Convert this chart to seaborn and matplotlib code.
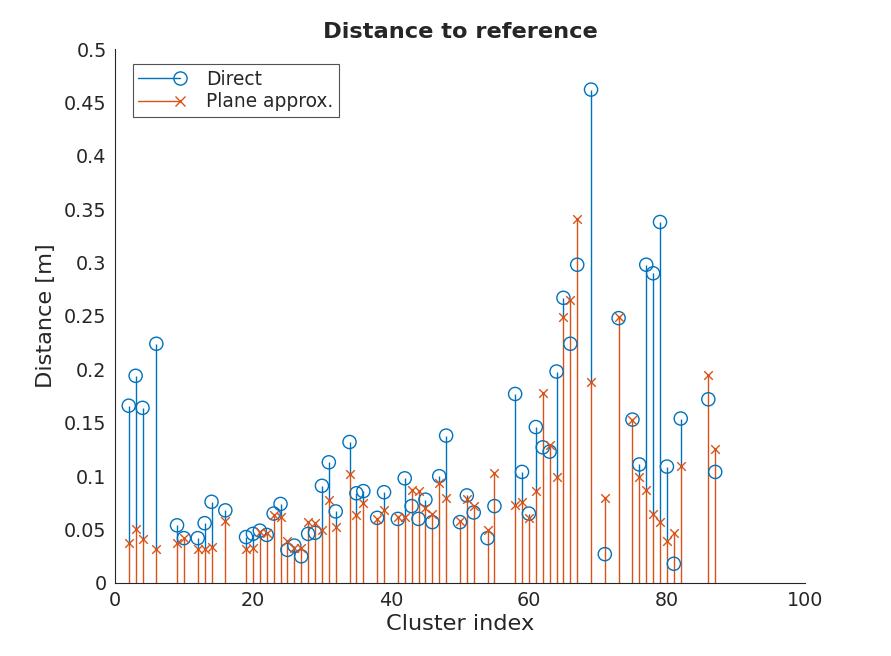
import numpy as np
import pandas as pd
import matplotlib
matplotlib.use("Agg")
import matplotlib.pyplot as plt
from matplotlib.lines import Line2D
from matplotlib.legend_handler import HandlerBase
import seaborn as sns

# Cluster indices and the two distance series
cluster_idx = [2, 3, 4, 6, 9, 10, 12, 13, 14, 16, 19, 20, 21, 22, 23, 24, 25, 26, 27, 28,
               29, 30, 31, 32, 34, 35, 36, 38, 39, 41, 42, 43, 44, 45, 46, 47, 48, 50, 51, 52,
               54, 55, 58, 59, 60, 61, 62, 63, 64, 65, 66, 67, 69, 71, 73, 75, 76, 77, 78, 79,
               80, 81, 82, 86, 87]
direct = [0.166, 0.194, 0.164, 0.224, 0.054, 0.042, 0.042, 0.056, 0.076, 0.068,
          0.043, 0.046, 0.049, 0.045, 0.065, 0.074, 0.031, 0.035, 0.025, 0.046,
          0.047, 0.091, 0.113, 0.067, 0.132, 0.084, 0.086, 0.061, 0.085, 0.060,
          0.098, 0.072, 0.060, 0.078, 0.057, 0.100, 0.138, 0.057, 0.082, 0.066,
          0.042, 0.072, 0.177, 0.104, 0.065, 0.146, 0.127, 0.123, 0.198, 0.267,
          0.224, 0.298, 0.462, 0.027, 0.248, 0.153, 0.111, 0.298, 0.290, 0.338,
          0.109, 0.018, 0.154, 0.172, 0.104]
plane = [0.037, 0.051, 0.041, 0.032, 0.037, 0.042, 0.032, 0.032, 0.034, 0.058,
         0.032, 0.033, 0.048, 0.047, 0.064, 0.062, 0.039, 0.033, 0.033, 0.057,
         0.056, 0.050, 0.078, 0.052, 0.102, 0.064, 0.075, 0.060, 0.068, 0.062,
         0.062, 0.087, 0.086, 0.070, 0.065, 0.094, 0.080, 0.058, 0.079, 0.072,
         0.050, 0.103, 0.073, 0.076, 0.061, 0.086, 0.178, 0.129, 0.099, 0.249,
         0.265, 0.341, 0.188, 0.080, 0.249, 0.153, 0.099, 0.087, 0.065, 0.057,
         0.039, 0.047, 0.110, 0.195, 0.125]

df = pd.DataFrame({"idx": cluster_idx, "Direct": direct, "Plane approx.": plane})

blue = "#0072BD"
orange = "#D95319"
dark = "#262626"


class EndMarkerHandler(HandlerBase):
    # legend entry like MATLAB's stem: a line with the marker at its right end
    def create_artists(self, legend, orig_handle, xdescent, ydescent, width,
                       height, fontsize, trans):
        y = (height - ydescent) / 2
        x0, x1 = -xdescent, -xdescent + width
        line = Line2D([x0, x1], [y, y], color=orig_handle.get_color(),
                      linewidth=orig_handle.get_linewidth())
        mark = Line2D([x1], [y], linestyle="none",
                      marker=orig_handle.get_marker(),
                      markersize=orig_handle.get_markersize(),
                      markerfacecolor=orig_handle.get_markerfacecolor(),
                      markeredgecolor=orig_handle.get_markeredgecolor(),
                      markeredgewidth=orig_handle.get_markeredgewidth())
        line.set_transform(trans)
        mark.set_transform(trans)
        return [line, mark]


sns.set_style("white")
plt.rcParams["font.family"] = ["DejaVu Sans"]
plt.rcParams["axes.edgecolor"] = dark
plt.rcParams["text.color"] = dark
plt.rcParams["axes.labelcolor"] = dark
plt.rcParams["xtick.color"] = dark
plt.rcParams["ytick.color"] = dark

fig = plt.figure(figsize=(8.91, 6.56), dpi=100)
ax = fig.add_axes([0.129, 0.1113, 0.7744, 0.814])

# Direct: stems (the part below the orange stem is hidden anyway) + open circles
ax.vlines(df["idx"], np.minimum(df["Direct"], df["Plane approx."]), df["Direct"],
          color=blue, linewidth=1)
sns.scatterplot(data=df, x="idx", y="Direct", ax=ax, marker="o", s=90,
                facecolor="none", edgecolor=blue, linewidth=1, zorder=3)

# Plane approx.: stems + crosses
ax.vlines(df["idx"], 0, df["Plane approx."], color=orange, linewidth=1)
sns.scatterplot(data=df, x="idx", y="Plane approx.", ax=ax, marker="x", s=38,
                color=orange, linewidth=1, zorder=3)

ax.set_xlim(0, 100)
ax.set_ylim(0, 0.5)
ax.set_xticks(np.arange(0, 101, 20))
ax.set_yticks(np.arange(0, 0.501, 0.05))
ax.set_yticklabels(["0", "0.05", "0.1", "0.15", "0.2", "0.25", "0.3", "0.35",
                    "0.4", "0.45", "0.5"])
ax.tick_params(direction="in", length=5, width=0.8, labelsize=13.8, pad=6)
sns.despine(ax=ax)
for sp in ["left", "bottom"]:
    ax.spines[sp].set_linewidth(0.8)

ax.set_xlabel("Cluster index", fontsize=16.2, labelpad=3)
ax.set_ylabel("Distance [m]", fontsize=16.2, labelpad=6)
ax.set_title("Distance to reference", fontsize=16.2, fontweight="bold", pad=8)

handles = [
    Line2D([0], [0], color=blue, linewidth=1, marker="o",
           markerfacecolor="none", markeredgecolor=blue, markersize=9.5),
    Line2D([0], [0], color=orange, linewidth=1, marker="x",
           markeredgecolor=orange, markersize=6.5),
]
leg = ax.legend(handles, ["Direct", "Plane approx."], loc="upper left",
                bbox_to_anchor=(0.026, 0.972), fontsize=13.4, frameon=True,
                fancybox=False, edgecolor=dark, handlelength=2.25,
                borderpad=0.3, labelspacing=0.2, handletextpad=1.4,
                borderaxespad=0,
                handler_map={Line2D: EndMarkerHandler()})
leg.get_frame().set_linewidth(0.8)

fig.savefig("out.png", dpi=100)
